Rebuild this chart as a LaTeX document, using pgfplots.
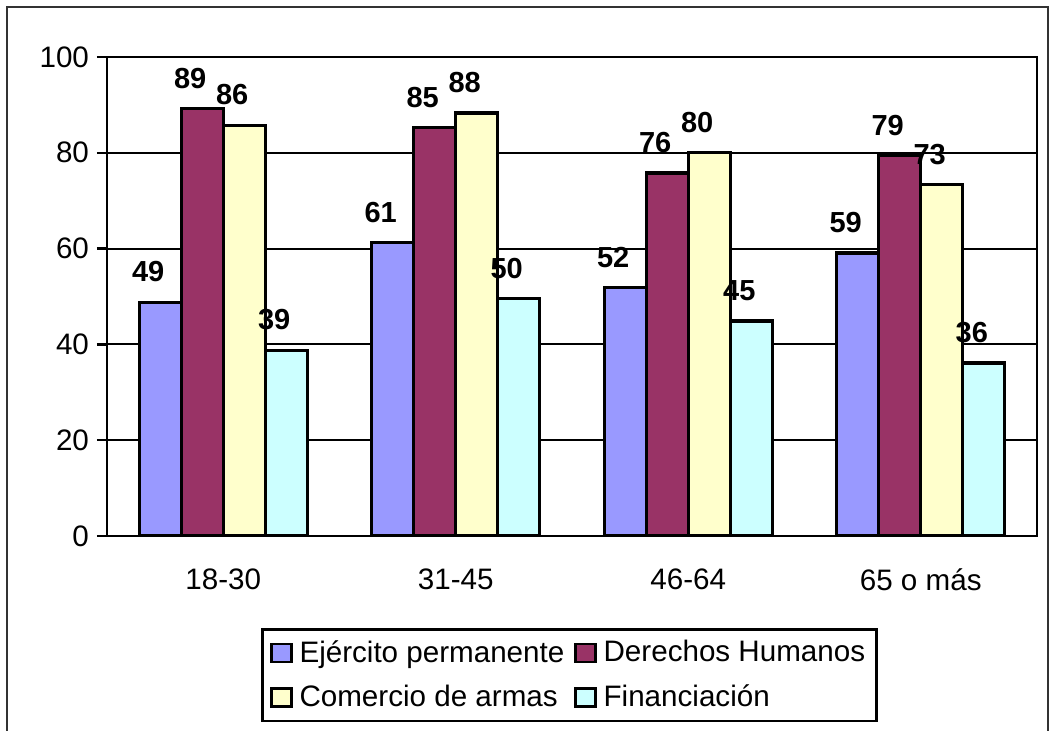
\documentclass[border=0pt]{standalone}
\usepackage{pgfplots}
\pgfplotsset{compat=1.18}
\usepackage{fontspec}
\setmainfont{Liberation Sans}

\definecolor{ejercito}{HTML}{9999FF}
\definecolor{derechos}{HTML}{993366}
\definecolor{comercio}{HTML}{FFFFCC}
\definecolor{financ}{HTML}{CCFFFF}

\begin{document}
\begin{tikzpicture}
  % page = 1055 x 731 px at 2 px per pt
  \path[use as bounding box] (0pt,0pt) rectangle (527.5pt,365.5pt);
  \draw[line width=1pt, black!80] (3.5pt,-20pt) rectangle (524pt,362pt);
  \begin{axis}[
    at={(53.5pt,97.5pt)}, anchor=south west,
    scale only axis,
    width=465pt, height=239.5pt,
    ybar=0pt, bar width=21pt,
    xmin=-0.5, xmax=3.5,
    ymin=0, ymax=100,
    ytick={0,20,...,100},
    xtick={0,1,2,3},
    xticklabels={18-30, 31-45, 46-64, 65 o más},
    extra x ticks={-0.5,0.5,1.5,2.5,3.5},
    extra x tick labels={},
    extra x tick style={major tick length=5pt, grid=none},
    major x tick style={draw=none},
    ytick pos=left, xtick pos=bottom,
    tick align=outside,
    major tick length=5pt,
    tick style={black, line width=1.2pt},
    axis line style={black, line width=1.4pt},
    ymajorgrids,
    major grid style={black, line width=1pt},
    /pgf/number format/assume math mode=true,
    tick label style={font=\fontsize{14.8}{16}\selectfont},
    yticklabel style={xshift=-0.5pt},
    xticklabel style={yshift=-8pt},
    nodes near coords,
    nodes near coords style={font=\bfseries\fontsize{14.5}{16}\selectfont,
      anchor=south, xshift=-6pt, yshift=6pt,
      /pgf/number format/fixed, /pgf/number format/precision=0,
      /pgf/number format/assume math mode=true},
    legend columns=2,
    legend style={at={(0.1656,-0.1921)}, anchor=north west,
      draw=black, line width=1.3pt,
      font=\fontsize{14.8}{16}\selectfont,
      inner xsep=4pt, inner ysep=4pt,
      row sep=7pt,
      nodes={inner sep=1.5pt},
      /tikz/every odd column/.append style={column sep=2pt},
      /tikz/every even column/.append style={column sep=3.5pt}},
    legend cell align=left,
    legend image code/.code={%
      \draw[#1, draw=black, line width=1.1pt] (0pt,-4.5pt) rectangle (10pt,4.5pt);},
  ]
    \addplot[fill=ejercito, draw=black, line width=1.6pt] coordinates {(0,48.8) (1,61.2) (2,51.8) (3,59.1)};
    \addplot[fill=derechos, draw=black, line width=1.6pt] coordinates {(0,89.2) (1,85.2) (2,75.8) (3,79.4)};
    \addplot[fill=comercio, draw=black, line width=1.6pt] coordinates {(0,85.7) (1,88.3) (2,80.0) (3,73.3)};
    \addplot[fill=financ, draw=black, line width=1.6pt] coordinates {(0,38.8) (1,49.5) (2,44.9) (3,36.1)};
    \legend{Ejército permanente, Derechos Humanos, Comercio de armas, Financiación}
  \end{axis}
\end{tikzpicture}
\end{document}
